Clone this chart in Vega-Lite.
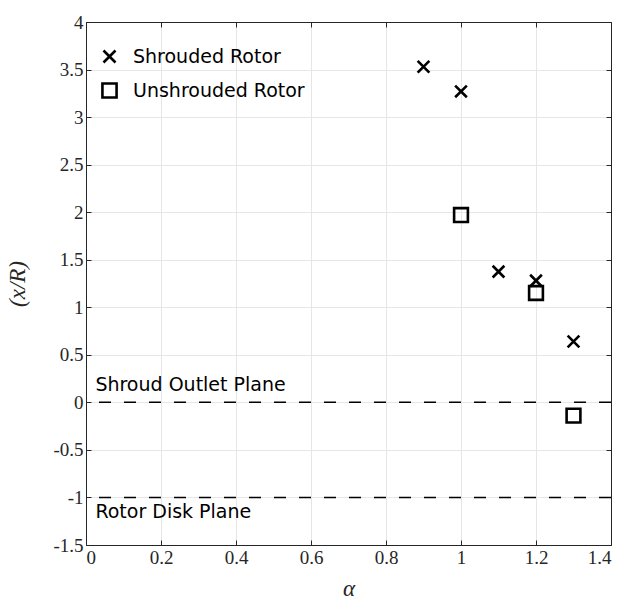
{
  "$schema": "https://vega.github.io/schema/vega-lite/v6.json",
  "width": 525,
  "height": 523,
  "autosize": {"type": "none"},
  "padding": {"left": 86, "top": 22, "right": 15, "bottom": 58},
  "background": "white",
  "config": {
    "view": {"stroke": null},
    "axis": {
      "labelFont": "Liberation Serif",
      "labelFontSize": 19,
      "labelColor": "#262626",
      "labelExpr": "'' + datum.value",
      "titleFont": "Liberation Serif",
      "titleFontSize": 23,
      "titleFontStyle": "italic",
      "titleFontWeight": "normal",
      "titleColor": "#262626",
      "domainColor": "#262626",
      "tickColor": "#262626",
      "gridColor": "#e6e6e6",
      "gridWidth": 1,
      "tickSize": -5,
      "domainWidth": 1
    }
  },
  "datasets": {
    "pts": [
      {"series": "Shrouded Rotor", "alpha": 0.9, "xR": 3.53},
      {"series": "Shrouded Rotor", "alpha": 1.0, "xR": 3.27},
      {"series": "Shrouded Rotor", "alpha": 1.1, "xR": 1.375},
      {"series": "Shrouded Rotor", "alpha": 1.2, "xR": 1.28},
      {"series": "Shrouded Rotor", "alpha": 1.3, "xR": 0.64},
      {"series": "Unshrouded Rotor", "alpha": 1.0, "xR": 1.97},
      {"series": "Unshrouded Rotor", "alpha": 1.2, "xR": 1.15},
      {"series": "Unshrouded Rotor", "alpha": 1.3, "xR": -0.14}
    ],
    "planes": [
      {"plane": 0, "label": "Shroud Outlet Plane"},
      {"plane": -1, "label": "Rotor Disk Plane"}
    ]
  },
  "layer": [
    {
      "data": {"name": "pts"},
      "mark": {"type": "point", "opacity": 0},
      "encoding": {
        "x": {"field": "alpha", "type": "quantitative",
          "scale": {"domain": [0, 1.4], "nice": false, "zero": false},
          "axis": {"orient": "top", "labels": false, "title": null, "grid": false, "values": [0, 0.2, 0.4, 0.6, 0.8, 1, 1.2, 1.4]}},
        "y": {"field": "xR", "type": "quantitative",
          "scale": {"domain": [-1.5, 4], "nice": false, "zero": false},
          "axis": {"orient": "right", "labels": false, "title": null, "grid": false, "values": [-1.5, -1, -0.5, 0, 0.5, 1, 1.5, 2, 2.5, 3, 3.5, 4]}}
      }
    },
    {
      "data": {"name": "planes"},
      "mark": {"type": "rule", "color": "black", "strokeWidth": 1.5, "strokeDash": [12, 13]},
      "encoding": {
        "y": {"field": "plane", "type": "quantitative", "axis": null}
      }
    },
    {
      "data": {"name": "pts"},
      "mark": {"type": "point", "filled": false, "color": "black", "strokeWidth": 2.6, "opacity": 1, "size": 190},
      "encoding": {
        "x": {"field": "alpha", "type": "quantitative",
          "axis": {"orient": "bottom", "title": "α", "grid": true, "values": [0, 0.2, 0.4, 0.6, 0.8, 1, 1.2, 1.4], "labelPadding": 8, "titlePadding": 10}},
        "y": {"field": "xR", "type": "quantitative",
          "axis": {"orient": "left", "title": "(x/R)", "grid": true, "values": [-1.5, -1, -0.5, 0, 0.5, 1, 1.5, 2, 2.5, 3, 3.5, 4], "labelPadding": 8, "titlePadding": 23}},
        "shape": {"field": "series", "type": "nominal",
          "scale": {"domain": ["Shrouded Rotor", "Unshrouded Rotor"], "range": ["M-0.85,-0.85L0.85,0.85M0.85,-0.85L-0.85,0.85", "square"]},
          "legend": {"orient": "none", "legendX": 14, "legendY": 25, "title": null, "padding": 0,
            "labelFont": "DejaVu Sans", "labelFontSize": 19, "labelColor": "black", "labelOffset": 14, "labelLimit": 400,
            "symbolSize": 200, "symbolStrokeColor": "black", "symbolStrokeWidth": 2.6, "symbolFillColor": "transparent", "rowPadding": 10}}
      }
    },
    {
      "data": {"name": "planes"},
      "transform": [{"filter": "datum.plane == 0"}],
      "mark": {"type": "text", "align": "left", "baseline": "bottom", "dy": -7, "font": "DejaVu Sans", "fontSize": 19, "color": "black"},
      "encoding": {
        "x": {"datum": 0.025, "type": "quantitative", "axis": null},
        "y": {"field": "plane", "type": "quantitative", "axis": null},
        "text": {"field": "label"}
      }
    },
    {
      "data": {"name": "planes"},
      "transform": [{"filter": "datum.plane == -1"}],
      "mark": {"type": "text", "align": "left", "baseline": "top", "dy": 6, "font": "DejaVu Sans", "fontSize": 19, "color": "black"},
      "encoding": {
        "x": {"datum": 0.025, "type": "quantitative", "axis": null},
        "y": {"field": "plane", "type": "quantitative", "axis": null},
        "text": {"field": "label"}
      }
    }
  ],
  "resolve": {"axis": {"x": "independent", "y": "independent"}}
}
